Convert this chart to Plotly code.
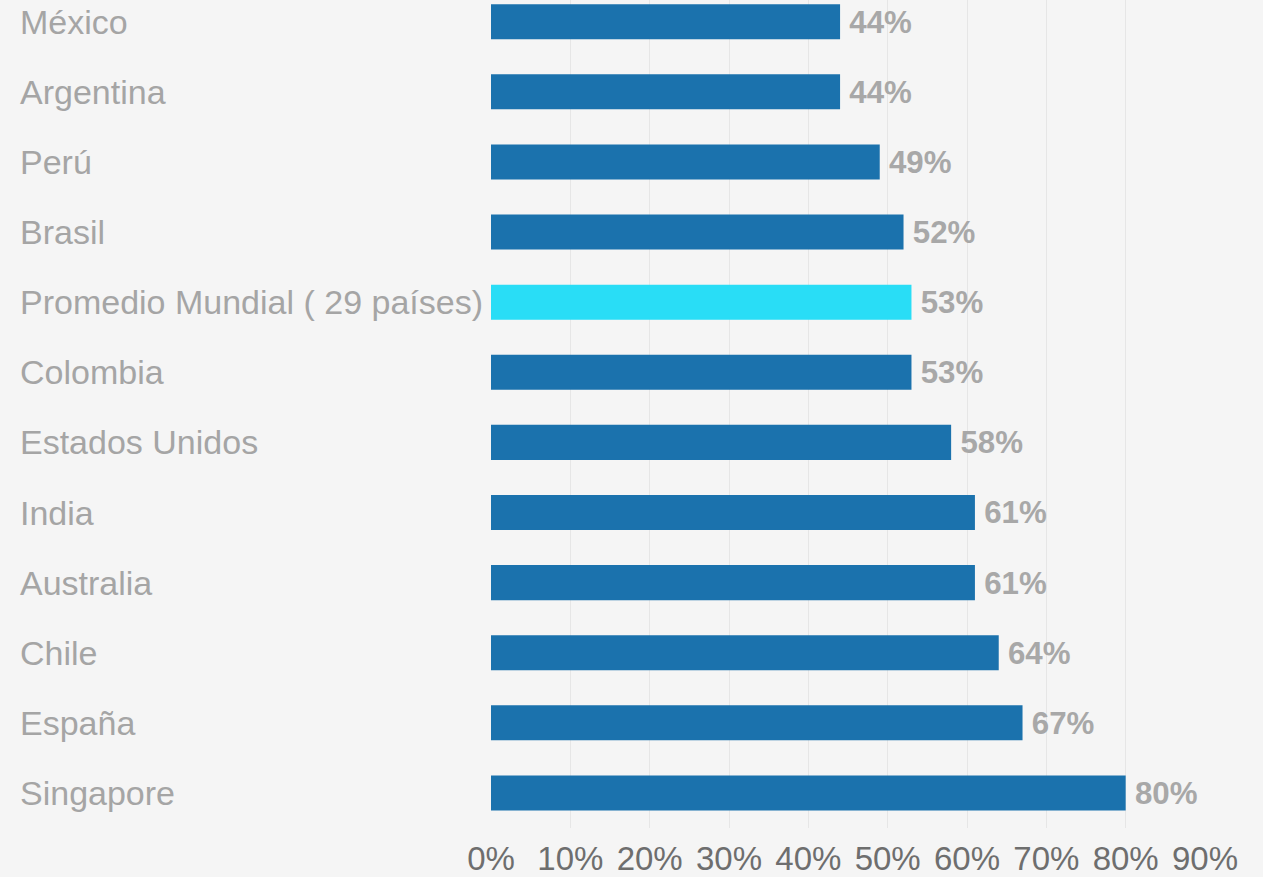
import plotly.graph_objects as go

# Categories from bottom to top (Plotly draws the first category at the bottom)
countries = ["Singapore", "España", "Chile", "Australia", "India", "Estados Unidos",
             "Colombia", "Promedio Mundial ( 29 países)", "Brasil", "Perú",
             "Argentina", "México"]
values = [0.80, 0.67, 0.64, 0.61, 0.61, 0.58, 0.53, 0.53, 0.52, 0.49, 0.44, 0.44]
highlight = "Promedio Mundial ( 29 países)"
tick_vals = [0, 0.1, 0.2, 0.3, 0.4, 0.5, 0.6, 0.7, 0.8, 0.9]
tick_text = ["0%", "10%", "20%", "30%", "40%", "50%", "60%", "70%", "80%", "90%"]

DARK = "#1b72ad"
LIGHT = "#29ddf6"
colors = [LIGHT if c == highlight else DARK for c in countries]

fig = go.Figure(go.Bar(
    x=values, y=countries, orientation="h",
    marker=dict(color=colors, line=dict(width=0)),
    width=0.5,
    text=[f"\u2009{round(v*100)}%" for v in values],
    textposition="outside",
    cliponaxis=False,
    textfont=dict(family="Liberation Sans", size=33, color="#a8a8a8", weight="bold"),
))

for c in countries:
    fig.add_annotation(
        x=-0.662, xref="paper", y=c, yref="y", text=c, showarrow=False,
        xanchor="left", yanchor="middle",
        font=dict(family="Liberation Sans", size=34, color="#a5a5a5"),
    )

fig.update_layout(
    width=1263, height=877,
    margin=dict(l=491, r=58, t=0, b=45),
    paper_bgcolor="#f5f5f5", plot_bgcolor="#f5f5f5",
    showlegend=False,
    bargap=0.5,
)
fig.update_xaxes(
    range=[0, 0.9], tickvals=tick_vals, ticktext=tick_text,
    showgrid=True, gridcolor="#e6e6e6", gridwidth=1, zeroline=False,
    showline=False, ticks="", ticklabelstandoff=8,
    tickfont=dict(family="Liberation Sans", size=33, color="#6e6e6e"),
)
fig.update_yaxes(
    categoryorder="array", categoryarray=countries,
    range=[-0.5, 11.31], showticklabels=False, showgrid=False, zeroline=False,
    ticks="",
)

fig.write_html("out.html", config={"displayModeBar": False},
               post_script="document.body.style.margin='0';document.body.style.overflow='hidden';")
